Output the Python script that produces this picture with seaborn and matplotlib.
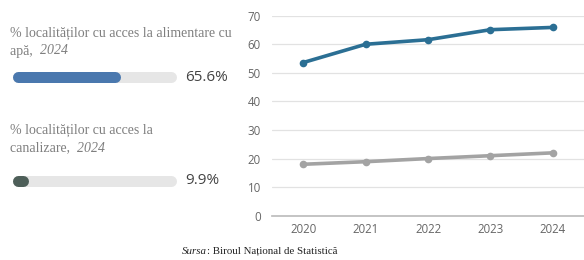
import numpy as np
import pandas as pd
import matplotlib
matplotlib.use("Agg")
import matplotlib.pyplot as plt
import seaborn as sns

# Data
years = [2020, 2021, 2022, 2023, 2024]
water_access = [53.6, 60.0, 61.6, 65.1, 65.9]
sewer_access = [18.0, 18.9, 20.0, 21.0, 22.0]
kpi_labels = ["% localităților cu acces la alimentare cu\napă,", "% localităților cu acces la\ncanalizare,"]
kpi_year = "2024"
kpi_values = [65.6, 9.9]
kpi_colors = ["#4a78ae", "#4e5f59"]
y_ticks = [0, 10, 20, 30, 40, 50, 60, 70]
source_label = "Biroul Național de Statistică"

W, H = 584, 260
sns.set_theme(style="white")
plt.rcParams["font.family"] = ["Open Sans", "DejaVu Sans"]

fig = plt.figure(figsize=(W / 100, H / 100), dpi=100)

def fx(px):
    return px / W

def fy(py):
    return 1 - py / H

# ---- left panel: progress bars (track spans px 12..176.7)
track_l, track_r = 12, 176.7
bar_lw_px = 11
axb = fig.add_axes([fx(track_l), 0, fx(track_r) - fx(track_l), 1])
axb.set_xlim(0, 100)
axb.set_ylim(H, 0)
axb.axis("off")
cap = (bar_lw_px / 2) / (track_r - track_l) * 100  # round cap radius in data units
bar_rows = [77, 181]
for v, c, yrow in zip(kpi_values, kpi_colors, bar_rows):
    axb.plot([cap, 100 - cap], [yrow, yrow], color="#e6e6e6", lw=bar_lw_px * 0.72,
             solid_capstyle="round", clip_on=False)
    axb.plot([cap, max(v - cap, cap + 0.01)], [yrow, yrow], color=c, lw=bar_lw_px * 0.72,
             solid_capstyle="round", clip_on=False)

label_tops = [33, 130]
for lab, yrow, ytop, v in zip(kpi_labels, bar_rows, label_tops, kpi_values):
    first, second = lab.split("\n")
    fig.text(fx(10), fy(ytop), first, family="Liberation Serif", fontsize=10,
             color="#7f7f7f", va="center", ha="left")
    t = fig.text(fx(10), fy(ytop + 18), second + "  ", family="Liberation Serif",
                 fontsize=10, color="#7f7f7f", va="center", ha="left")
    fig.canvas.draw()
    bb = t.get_window_extent()
    fig.text(bb.x1 / W, fy(ytop + 18), kpi_year, family="Liberation Serif", fontsize=10,
             style="italic", color="#7f7f7f", va="center", ha="left")
    fig.text(fx(185), fy(yrow), f"{v}%", fontsize=11, color="#444444",
             va="center", ha="left")

# ---- right panel: line chart
df = pd.DataFrame({
    "year": years * 2,
    "value": water_access + sewer_access,
    "series": ["apa"] * len(years) + ["canal"] * len(years),
})
ax = fig.add_axes([fx(272), fy(215.7), 1 - fx(272), fy(15.7) - fy(215.7)])
sns.lineplot(data=df, x="year", y="value", hue="series",
             palette={"apa": "#2b6f94", "canal": "#a3a3a3"},
             marker="o", markersize=5.5, markeredgewidth=0, linewidth=2.6,
             legend=False, ax=ax)
ax.set_xlim(2019.5, 2024.5)
ax.set_ylim(0, 70)
ax.set_xticks(years)
ax.set_yticks(y_ticks)
ax.set_xlabel("")
ax.set_ylabel("")
ax.grid(axis="y", color="#e2e2e2", lw=0.9)
ax.set_axisbelow(True)
for s in ["top", "right", "left"]:
    ax.spines[s].set_visible(False)
ax.spines["bottom"].set_color("#bdbdbd")
ax.tick_params(axis="both", labelsize=8.3, colors="#666666", length=0)
ax.tick_params(axis="y", pad=8)
ax.tick_params(axis="x", pad=5)

# ---- source
src = fig.text(fx(182), fy(251), "Sursa", family="Liberation Serif", style="italic",
               fontsize=7.8, color="#222222", va="center", ha="left")
fig.canvas.draw()
bb = src.get_window_extent()
fig.text(bb.x1 / W, fy(251), ": " + source_label, family="Liberation Serif",
         fontsize=7.8, color="#222222", va="center", ha="left")

fig.savefig("out.png", dpi=100)
